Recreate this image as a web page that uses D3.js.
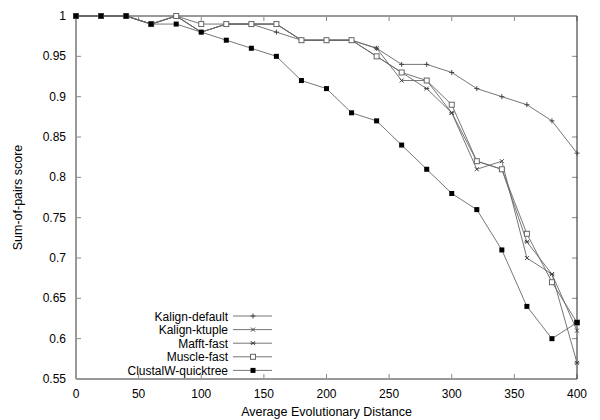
<!DOCTYPE html>
<html><head><meta charset="utf-8">
<script src="https://cdn.jsdelivr.net/npm/d3@7"></script>
<style>body{margin:0;background:#fff;} text{font-family:"Liberation Sans",Arial,sans-serif;}</style>
</head><body><svg id="c" width="600" height="420"></svg>
<script>
const distances = [0,20,40,60,80,100,120,140,160,180,200,220,240,260,280,300,320,340,360,380,400];
const kalignDefault = [1,1,1,0.99,1,0.98,0.99,0.99,0.98,0.97,0.97,0.97,0.96,0.94,0.94,0.93,0.91,0.90,0.89,0.87,0.83];
const kalignKtuple  = [1,1,1,0.99,1,0.98,0.99,0.99,0.99,0.97,0.97,0.97,0.96,0.92,0.92,0.88,0.81,0.82,0.70,0.68,0.61];
const mafftFast     = [1,1,1,0.99,1,0.98,0.99,0.99,0.99,0.97,0.97,0.97,0.95,0.93,0.91,0.88,0.82,0.81,0.72,0.68,0.57];
const muscleFast    = [1,1,1,0.99,1,0.99,0.99,0.99,0.99,0.97,0.97,0.97,0.95,0.93,0.92,0.89,0.82,0.81,0.73,0.67,0.62];
const clustalW      = [1,1,1,0.99,0.99,0.98,0.97,0.96,0.95,0.92,0.91,0.88,0.87,0.84,0.81,0.78,0.76,0.71,0.64,0.60,0.62];
const seriesNames = ["Kalign-default","Kalign-ktuple","Mafft-fast","Muscle-fast","ClustalW-quicktree"];
const markers = ["plus","cross","star","opensq","filledsq"];
const xTicks = [0,50,100,150,200,250,300,350,400];
const yTicks = [0.55,0.6,0.65,0.7,0.75,0.8,0.85,0.9,0.95,1];
const xTitle = "Average Evolutionary Distance";
const yTitle = "Sum-of-pairs score";

const series = [kalignDefault,kalignKtuple,mafftFast,muscleFast,clustalW];
const L=76,R=577,T=16,B=379;
const svg=d3.select("#c");
const x=d3.scaleLinear().domain([0,400]).range([L,R]);
const y=d3.scaleLinear().domain([0.55,1]).range([B,T]);

// ticks (inward, mirrored)
const tk=svg.append("g").attr("stroke","#888").attr("stroke-width",1);
xTicks.forEach(v=>{
  tk.append("line").attr("x1",x(v)).attr("x2",x(v)).attr("y1",B).attr("y2",B-5);
  tk.append("line").attr("x1",x(v)).attr("x2",x(v)).attr("y1",T).attr("y2",T+5);
});
yTicks.forEach(v=>{
  tk.append("line").attr("x1",L).attr("x2",L+5).attr("y1",y(v)).attr("y2",y(v));
  tk.append("line").attr("x1",R).attr("x2",R-5).attr("y1",y(v)).attr("y2",y(v));
});
// frame
svg.append("line").attr("x1",L).attr("x2",R).attr("y1",T).attr("y2",T).attr("stroke","#999").attr("stroke-width",2);
svg.append("line").attr("x1",L).attr("x2",R).attr("y1",B).attr("y2",B).attr("stroke","#999").attr("stroke-width",2);
svg.append("line").attr("x1",L).attr("x2",L).attr("y1",T).attr("y2",B).attr("stroke","#999").attr("stroke-width",2);
svg.append("line").attr("x1",R).attr("x2",R).attr("y1",T).attr("y2",B).attr("stroke","#222").attr("stroke-width",1);

// tick labels
xTicks.forEach(v=>svg.append("text").attr("x",x(v)).attr("y",B+19).attr("text-anchor","middle").attr("font-size",12).attr("fill","#000").text(v));
yTicks.forEach(v=>svg.append("text").attr("x",66).attr("y",y(v)+4).attr("text-anchor","end").attr("font-size",12).attr("fill","#000").text(v));
svg.append("text").attr("x",(L+R)/2).attr("y",416).attr("text-anchor","middle").attr("font-size",12.5).text(xTitle);
svg.append("text").attr("transform","translate(22,"+((T+B)/2)+") rotate(-90)").attr("text-anchor","middle").attr("font-size",12.5).text(yTitle);

function drawMarker(g,type,cx,cy){
  if(type==="plus"){
    g.append("path").attr("d",`M${cx-2.5},${cy}H${cx+2.5}M${cx},${cy-2.5}V${cy+2.5}`).attr("stroke","#444").attr("fill","none");
  } else if(type==="cross"){
    g.append("path").attr("d",`M${cx-2},${cy-2}L${cx+2},${cy+2}M${cx-2},${cy+2}L${cx+2},${cy-2}`).attr("stroke","#444").attr("fill","none");
  } else if(type==="star"){
    g.append("path").attr("d",`M${cx-2},${cy-2}L${cx+2},${cy+2}M${cx-2},${cy+2}L${cx+2},${cy-2}M${cx-2.5},${cy}H${cx+2.5}`).attr("stroke","#444").attr("fill","none");
  } else if(type==="opensq"){
    g.append("rect").attr("x",cx-2.5).attr("y",cy-2.5).attr("width",5).attr("height",5).attr("fill","#fff").attr("stroke","#666");
  } else {
    g.append("rect").attr("x",cx-2.5).attr("y",cy-2.5).attr("width",5).attr("height",5).attr("fill","#000");
  }
}

const line=d3.line().x((d,i)=>x(distances[i])).y(d=>y(d));
const pg=svg.append("g");
series.forEach((s,k)=>{
  pg.append("path").datum(s).attr("d",line).attr("fill","none").attr("stroke","#666").attr("stroke-width",0.9);
});
series.forEach((s,k)=>{
  const g=pg.append("g");
  s.forEach((v,i)=>drawMarker(g,markers[k],x(distances[i]),y(v)));
});

// legend
const lg=svg.append("g");
seriesNames.forEach((n,k)=>{
  const yy=316+k*13.6;
  lg.append("text").attr("x",228).attr("y",yy+4.5).attr("text-anchor","end").attr("font-size",12).text(n);
  lg.append("line").attr("x1",233).attr("x2",272).attr("y1",yy).attr("y2",yy).attr("stroke","#666").attr("stroke-width",0.9);
  drawMarker(lg,markers[k],253,yy);
});
</script></body></html>
